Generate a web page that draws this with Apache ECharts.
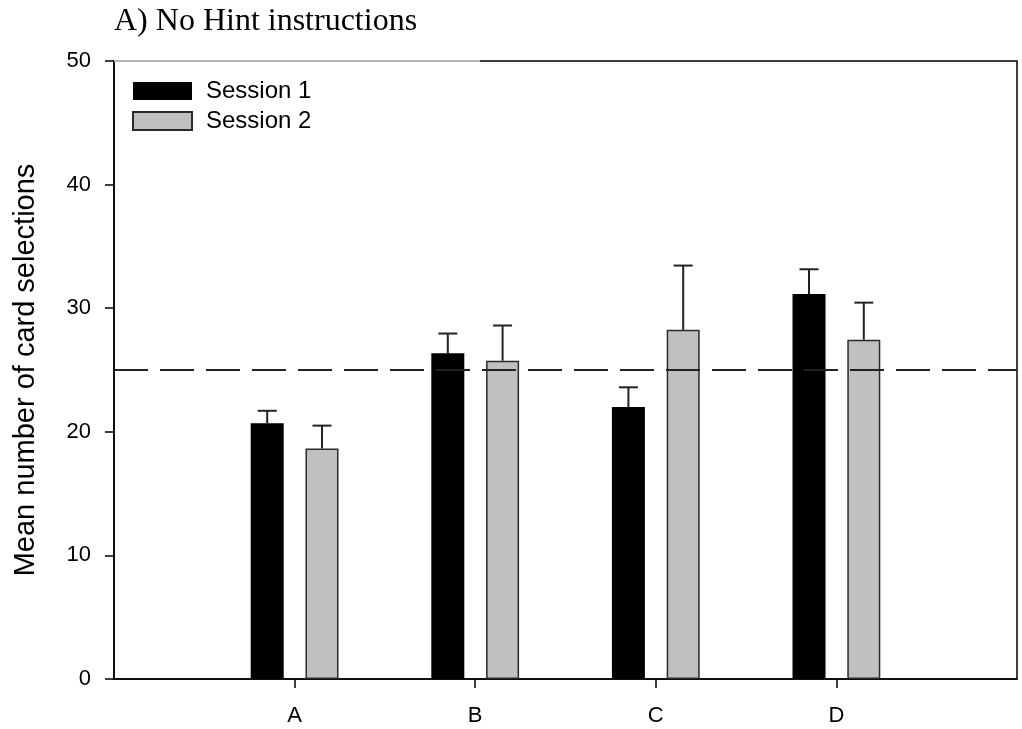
<!DOCTYPE html>
<html>
<head>
<meta charset="utf-8">
<script src="https://cdn.jsdelivr.net/npm/echarts@6/dist/echarts.min.js"></script>
<style>html,body{margin:0;padding:0;background:#fff}#c{width:1022px;height:729px}</style>
</head>
<body>
<div id="c"></div>
<script>
const categories = ['A', 'B', 'C', 'D'];
const session1 = [20.7, 26.35, 22.0, 31.15];
const session2 = [18.65, 25.75, 28.25, 27.45];
const err1 = [1.0, 1.6, 1.6, 2.0];
const err2 = [1.85, 2.85, 5.2, 3.0];
const chanceLevel = 25;
const yTicks = [0, 10, 20, 30, 40, 50];

const SANS = '"Liberation Sans", Arial, sans-serif';
const SERIF = '"Liberation Serif", "Times New Roman", serif';
const G = {left: 114, right: 5, top: 61, bottom: 50};
const BAR_W = 33, BAR_GAP = 0.66;
const OFF = (BAR_W + BAR_W * BAR_GAP) / 2;

const xData = [''].concat(categories, ['']);
const pad = arr => ['-'].concat(arr, ['-']);
const errData = (vals, errs) => vals.map((v, i) => [i + 1, v, errs[i]]);

function errRender(offset) {
  return function (params, api) {
    const x = api.value(0), v = api.value(1), e = api.value(2);
    const p0 = api.coord([x, v]);
    const p1 = api.coord([x, v + e]);
    const cx = p0[0] + offset;
    const st = {stroke: '#222', lineWidth: 2};
    return {
      type: 'group',
      children: [
        {type: 'line', shape: {x1: cx, y1: p0[1], x2: cx, y2: p1[1]}, style: st},
        {type: 'line', shape: {x1: cx - 9.5, y1: p1[1], x2: cx + 9.5, y2: p1[1]}, style: st}
      ]
    };
  };
}

const chart = echarts.init(document.getElementById('c'), null, {renderer: 'canvas'});
chart.setOption({
  animation: false,
  backgroundColor: '#fff',
  title: {
    text: 'A) No Hint instructions',
    left: 109, top: 1,
    textStyle: {fontFamily: SERIF, fontSize: 32, fontWeight: 'normal', color: '#000'}
  },
  legend: {
    orient: 'vertical', left: 132, top: 79, padding: 0,
    itemWidth: 59, itemHeight: 18, itemGap: 6,
    icon: 'rect',
    textStyle: {fontFamily: SANS, fontSize: 24, color: '#000', padding: [0, 0, 0, 9]},
    data: ['Session 1', 'Session 2']
  },
  grid: {left: G.left, right: G.right, top: G.top, bottom: G.bottom, show: true, borderColor: '#000', borderWidth: 1.5, containLabel: false},
  xAxis: {
    type: 'category', data: xData, boundaryGap: false,
    axisLine: {lineStyle: {color: '#000', width: 1.5}},
    axisTick: {show: true, length: 9, inside: false, lineStyle: {color: '#000', width: 1.5},
      interval: (i, v) => v !== ''},
    axisLabel: {fontFamily: SANS, fontSize: 22, color: '#000', margin: 26, interval: 0},
    splitLine: {show: false}
  },
  yAxis: {
    type: 'value', min: yTicks[0], max: yTicks[yTicks.length - 1], interval: 10,
    name: 'Mean number of card selections', nameLocation: 'middle', nameGap: 74,
    nameTextStyle: {fontFamily: SANS, fontSize: 29, color: '#000'},
    axisLine: {show: true, lineStyle: {color: '#000', width: 1.5}},
    axisTick: {show: true, length: 9, lineStyle: {color: '#000', width: 1.5}},
    axisLabel: {fontFamily: SANS, fontSize: 22, color: '#000', margin: 23},
    splitLine: {show: false}
  },
  series: [
    {
      name: 'Session 1', type: 'bar', data: pad(session1), barWidth: BAR_W, barGap: (BAR_GAP * 100) + '%',
      itemStyle: {color: '#000', borderColor: '#000', borderWidth: 0}, z: 2
    },
    {
      name: 'Session 2', type: 'bar', data: pad(session2), barWidth: BAR_W, barGap: (BAR_GAP * 100) + '%',
      itemStyle: {color: '#c0c0c0', borderColor: '#2a2a2a', borderWidth: 1.5}, z: 2
    },
    {
      name: 'err1', type: 'custom', renderItem: errRender(-OFF), data: errData(session1, err1), z: 3,
      encode: {x: 0, y: 1}
    },
    {
      name: 'err2', type: 'custom', renderItem: errRender(OFF), data: errData(session2, err2), z: 3,
      encode: {x: 0, y: 1},
      markLine: {
        silent: true, symbol: 'none', label: {show: false},
        lineStyle: {color: '#222', width: 2, type: [34, 12]},
        data: [{yAxis: chanceLevel}]
      }
    }
  ],
  graphic: [{
    type: 'line', z: 50,
    shape: {x1: G.left, y1: G.top, x2: 480, y2: G.top},
    style: {stroke: '#b4b4b4', lineWidth: 2}
  }]
});
</script>
</body>
</html>
